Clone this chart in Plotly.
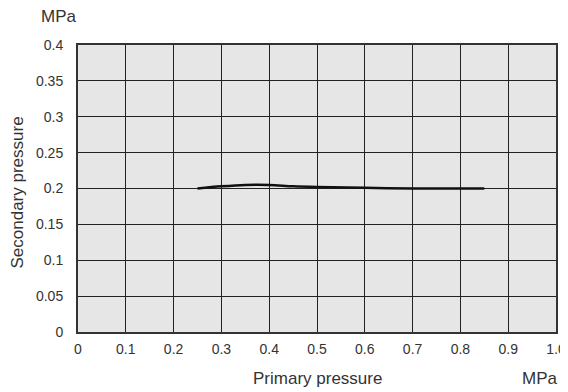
import plotly.graph_objects as go

# primary pressure (MPa) vs secondary pressure (MPa)
primary = [0.25, 0.3, 0.35, 0.4, 0.45, 0.5, 0.6, 0.7, 0.8, 0.85]
secondary = [0.2, 0.203, 0.205, 0.205, 0.203, 0.202, 0.201, 0.2, 0.2, 0.2]

x_ticks = [0, 0.1, 0.2, 0.3, 0.4, 0.5, 0.6, 0.7, 0.8, 0.9, 1.0]
x_labels = ['0', '0.1', '0.2', '0.3', '0.4', '0.5', '0.6', '0.7', '0.8', '0.9', '1.0']
y_ticks = [0, 0.05, 0.1, 0.15, 0.2, 0.25, 0.3, 0.35, 0.4]
y_labels = ['0', '0.05', '0.1', '0.15', '0.2', '0.25', '0.3', '0.35', '0.4']

font = 'Liberation Sans, Arial, sans-serif'
txt = '#333333'

fig = go.Figure()
fig.add_trace(go.Scatter(
    x=primary, y=secondary, mode='lines',
    line=dict(color='#111111', width=2.5, shape='spline'),
    showlegend=False, hoverinfo='skip'))

fig.update_xaxes(
    range=[0, 1.0], tickvals=x_ticks, ticktext=x_labels,
    showgrid=True, gridcolor='#222222', gridwidth=1, automargin=False,
    zeroline=False, showline=True, linecolor='#333333', linewidth=2, mirror=True,
    ticks='', ticklabelstandoff=3,
    tickfont=dict(family=font, size=14, color=txt))
fig.update_yaxes(
    range=[0, 0.4], tickvals=y_ticks, ticktext=y_labels,
    showgrid=True, gridcolor='#222222', gridwidth=1, automargin=False,
    zeroline=False, showline=True, linecolor='#333333', linewidth=2, mirror=True,
    ticks='', ticklabelstandoff=10,
    tickfont=dict(family=font, size=14, color=txt))

# the page body keeps an 8px margin, so the figure is sized/positioned to suit
title_font = dict(family=font, size=17, color=txt)
fig.add_annotation(text='Secondary pressure', xref='paper', yref='paper', x=0, y=0.5,
                   xanchor='center', yanchor='middle',
                   xshift=-61, yshift=-4, textangle=-90, showarrow=False, font=title_font)
fig.add_annotation(text='Primary pressure', xref='paper', yref='paper', x=0.5, y=0,
                   xanchor='center', yanchor='middle',
                   yshift=-46, showarrow=False, font=title_font)
fig.add_annotation(text='MPa', xref='paper', yref='paper', x=0, y=1.0,
                   xanchor='center', yanchor='middle',
                   xshift=-19, yshift=29, showarrow=False, font=title_font)
fig.add_annotation(text='MPa', xref='paper', yref='paper', x=1.0, y=0,
                   xanchor='center', yanchor='middle',
                   xshift=-16, yshift=-46, showarrow=False, font=title_font)

fig.update_layout(
    width=560, height=384,
    margin=dict(l=70, r=12, t=37, b=60),
    plot_bgcolor='#e6e6e6', paper_bgcolor='white')

fig.write_html("out.html")
